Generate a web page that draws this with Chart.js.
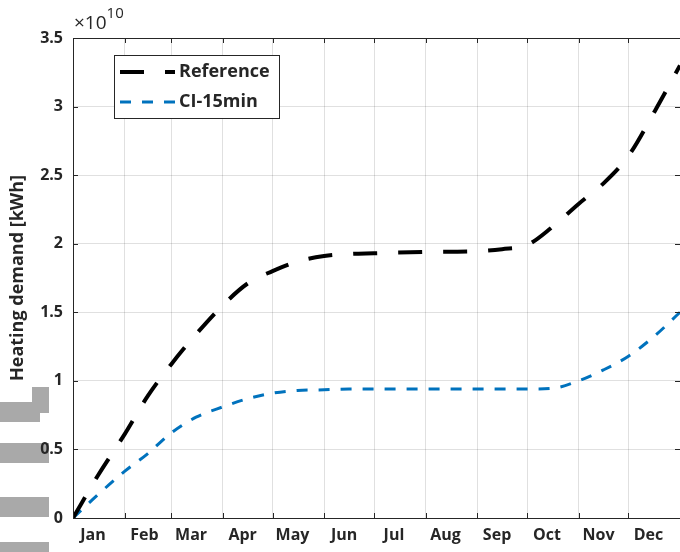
<!DOCTYPE html>
<html>
<head>
<meta charset="utf-8">
<script src="https://cdn.jsdelivr.net/npm/chart.js@4.4.1/dist/chart.umd.min.js"></script>
<style>
  body { margin: 0; background: #fff; }
  #wrap { position: relative; width: 680px; height: 552px; overflow: hidden; }
  .blot { position: absolute; background: #a9a9a9; }
  canvas { position: absolute; left: 0; top: 0; }
</style>
</head>
<body>
<div id="wrap">
  <!-- grey blocks sitting over the left edge of the original picture -->
  <div class="blot" style="left:32px;top:387px;width:17px;height:26px"></div>
  <div class="blot" style="left:0;top:402px;width:40px;height:20px"></div>
  <div class="blot" style="left:0;top:443px;width:49px;height:20px"></div>
  <div class="blot" style="left:0;top:497px;width:49px;height:20px"></div>
  <div class="blot" style="left:0;top:542px;width:49px;height:10px"></div>
  <canvas id="heatChart" width="680" height="552"></canvas>
</div>
<script>
// day of year where each month starts (plus year end)
const monthStarts = [0, 31, 59, 90, 120, 151, 181, 212, 243, 273, 304, 334, 365];
const monthNames = ["Jan", "Feb", "Mar", "Apr", "May", "Jun", "Jul", "Aug", "Sep", "Oct", "Nov", "Dec"];
const labelDays = [12, 43, 71, 102, 132, 163, 193, 224, 255, 285, 316, 346];

// cumulative heating demand, in units of 1e10 kWh
const days = [0, 15, 31, 45, 59, 74, 90, 105, 120, 135, 151, 166, 181, 212, 243, 258, 273, 288, 304, 319, 334, 350, 365];
const referenceValues = [0, 0.31, 0.61, 0.89, 1.12, 1.34, 1.55, 1.71, 1.80, 1.87, 1.91, 1.925, 1.93, 1.94, 1.945, 1.96, 1.99, 2.12, 2.29, 2.44, 2.64, 2.97, 3.30];
const ci15Values = [0, 0.17, 0.34, 0.47, 0.62, 0.735, 0.81, 0.87, 0.91, 0.93, 0.935, 0.94, 0.94, 0.94, 0.94, 0.94, 0.94, 0.945, 1.0, 1.08, 1.18, 1.33, 1.50];

const yTitle = 'Heating demand [kWh]';

const FONT = '"Open Sans", "Noto Sans", sans-serif';
const TEXT = '#262626';

const toPoints = vals => days.map((d, i) => ({ x: d, y: vals[i] }));

// box round the axes, inner tick marks, y title, x10^10 note and the legend
const axesExtras = {
    id: 'axesExtras',
    afterDraw(chart) {
        const { ctx, chartArea: a, scales } = chart;
        ctx.save();
        ctx.strokeStyle = TEXT;
        ctx.lineWidth = 1;
        ctx.strokeRect(a.left + 0.5, a.top + 0.5, a.right - a.left, a.bottom - a.top);
        ctx.beginPath();
        scales.y.ticks.forEach(t => {
            const py = Math.round(scales.y.getPixelForValue(t.value)) + 0.5;
            ctx.moveTo(a.left, py); ctx.lineTo(a.left + 5, py);
            ctx.moveTo(a.right, py); ctx.lineTo(a.right - 5, py);
        });
        monthStarts.forEach(d => {
            const px = Math.round(scales.x.getPixelForValue(d)) + 0.5;
            ctx.moveTo(px, a.bottom); ctx.lineTo(px, a.bottom - 5);
            ctx.moveTo(px, a.top); ctx.lineTo(px, a.top + 5);
        });
        ctx.stroke();

        // y axis title
        ctx.save();
        ctx.translate(18, (a.top + a.bottom) / 2);
        ctx.rotate(-Math.PI / 2);
        ctx.fillStyle = TEXT;
        ctx.font = 'bold 18px ' + FONT;
        ctx.textAlign = 'center';
        ctx.textBaseline = 'middle';
        ctx.fillText(yTitle, 0, 0);
        ctx.restore();

        // exponent note
        ctx.fillStyle = TEXT;
        ctx.textBaseline = 'alphabetic';
        ctx.font = '19px ' + FONT;
        ctx.fillText('\u00d710', 74, 29);
        const w = ctx.measureText('\u00d710').width;
        ctx.font = '15px ' + FONT;
        ctx.fillText('10', 74 + w, 18);

        // legend
        const lx = 114, ly = 55, lw = 165, lh = 63;
        ctx.fillStyle = '#fff';
        ctx.fillRect(lx, ly, lw, lh);
        ctx.strokeStyle = TEXT;
        ctx.strokeRect(lx + 0.5, ly + 0.5, lw, lh);
        chart.data.datasets.forEach((ds, i) => {
            const y = ly + 17 + i * 30;
            ctx.beginPath();
            ctx.strokeStyle = ds.borderColor;
            ctx.lineWidth = ds.borderWidth;
            ctx.setLineDash(ds.borderDash);
            ctx.moveTo(lx + 6, y); ctx.lineTo(lx + 61, y);
            ctx.stroke();
            ctx.setLineDash([]);
            ctx.fillStyle = TEXT;
            ctx.font = 'bold 18px ' + FONT;
            ctx.textBaseline = 'middle';
            ctx.fillText(ds.label, lx + 65, y);
        });
        ctx.restore();
    }
};

const ctx = document.getElementById('heatChart').getContext('2d');
new Chart(ctx, {
    type: 'line',
    data: {
        datasets: [
            {
                label: 'Reference',
                data: toPoints(referenceValues),
                borderColor: '#000000',
                borderWidth: 4,
                borderDash: [24, 21],
                pointRadius: 0,
                cubicInterpolationMode: 'monotone',
                xAxisID: 'x'
            },
            {
                label: 'CI-15min',
                data: toPoints(ci15Values),
                borderColor: '#0072BD',
                borderWidth: 3,
                borderDash: [11, 11],
                pointRadius: 0,
                cubicInterpolationMode: 'monotone',
                xAxisID: 'x'
            }
        ]
    },
    options: {
        responsive: false,
        animation: false,
        layout: { padding: { top: 38, right: 0, left: 0, bottom: 0 } },
        plugins: { legend: { display: false }, tooltip: { enabled: false } },
        scales: {
            x: {
                type: 'linear',
                min: 0,
                max: 365,
                afterBuildTicks: s => { s.ticks = monthStarts.map(v => ({ value: v })); },
                afterFit: s => { s.height = 0; },
                ticks: { display: false },
                grid: { color: 'rgba(0,0,0,0.12)', drawTicks: false },
                border: { color: TEXT }
            },
            xLabels: {
                type: 'linear',
                position: 'bottom',
                min: 0,
                max: 365,
                afterBuildTicks: s => { s.ticks = labelDays.map(v => ({ value: v })); },
                afterFit: s => { s.height = 34; },
                ticks: {
                    autoSkip: false,
                    maxRotation: 0,
                    padding: 8,
                    color: TEXT,
                    font: { family: FONT, size: 16, weight: 'bold' },
                    callback: (v, i) => monthNames[i]
                },
                grid: { display: false, drawTicks: false },
                border: { display: false }
            },
            y: {
                min: 0,
                max: 3.5,
                afterFit: s => { s.width = 73; },
                ticks: {
                    stepSize: 0.5,
                    padding: 10,
                    color: TEXT,
                    font: { family: FONT, size: 16, weight: 'bold' },
                    callback: v => String(v)
                },
                grid: { color: 'rgba(0,0,0,0.12)', drawTicks: false },
                border: { color: TEXT }
            }
        }
    },
    plugins: [axesExtras]
});
</script>
</body>
</html>
